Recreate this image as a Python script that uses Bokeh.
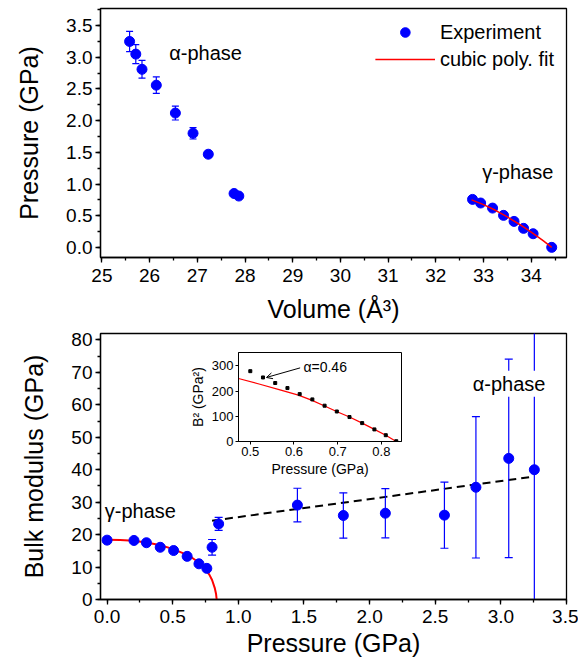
from bokeh.plotting import figure
from bokeh.models import (ColumnDataSource, Legend, LegendItem, Range1d, SingleIntervalTicker,
                          NumeralTickFormatter, Label, Arrow, OpenHead)
from bokeh.layouts import column
from bokeh.embed import file_html
from bokeh.resources import INLINE

FONT = "Liberation Sans"
BLUE = "#0000FF"

# ---------------- Top panel: P-V data ----------------
alpha_V = [25.58, 25.71, 25.84, 26.14, 26.54, 26.91, 27.23, 27.77, 27.87]
alpha_P = [3.25, 3.05, 2.81, 2.56, 2.12, 1.80, 1.47, 0.85, 0.81]
alpha_Perr = [0.16, 0.15, 0.14, 0.13, 0.11, 0.09, 0.05, 0.03, 0.03]
gamma_V = [32.77, 32.94, 33.19, 33.42, 33.64, 33.84, 34.04, 34.43]
gamma_P = [0.757, 0.70, 0.62, 0.505, 0.41, 0.30, 0.215, 0.0]
fit_V = [32.75, 33.0, 33.25, 33.5, 33.75, 34.0, 34.25, 34.43]
fit_P = [0.75, 0.675, 0.585, 0.48, 0.365, 0.24, 0.105, 0.0]

# ---------------- Bottom panel: B-P data ----------------
gB_P = [0.0, 0.205, 0.30, 0.405, 0.507, 0.61, 0.70, 0.76]
gB_B = [18.3, 18.2, 17.5, 16.1, 15.1, 13.3, 11.0, 9.6]
aB_P = [0.80, 0.85, 1.45, 1.80, 2.12, 2.57, 2.81, 3.06, 3.255]
aB_B = [16.1, 23.3, 29.1, 25.9, 26.6, 26.0, 34.6, 43.5, 40.0]
aB_err = [2.4, 2.0, 5.2, 7.0, 7.6, 10.2, 21.8, 30.6, 45.0]
redB_P = [0.0, 0.1, 0.2, 0.3, 0.4, 0.5, 0.6, 0.65, 0.7, 0.75, 0.78, 0.8, 0.82, 0.83, 0.835]
redB_B = [18.4, 18.35, 18.1, 17.6, 16.8, 15.6, 13.9, 12.8, 11.4, 9.3, 7.6, 6.0, 3.6, 1.8, 0.0]
dash_P = [0.80, 3.25]
dash_B = [24.3, 37.9]

# ---------------- Inset: B^2 vs P ----------------
ins_P = [0.50, 0.529, 0.557, 0.585, 0.613, 0.642, 0.670, 0.698, 0.727, 0.756, 0.784, 0.810, 0.834]
ins_B2 = [279, 254, 232, 212, 188, 167, 142, 119, 97, 73, 48, 25, 1]
insfit_P = [0.473, 0.52, 0.57, 0.61, 0.64, 0.67, 0.70, 0.727, 0.756, 0.784, 0.81, 0.834]
insfit_B2 = [250, 228, 204, 184, 164, 141, 117, 97, 73, 48, 25, 0]
arrow_from = (0.614, 292)
arrow_to = (0.537, 254)


def style_axes(p, tick_size="19px", label_size="25px", major_out=5, minor_out=3, lw=1.3):
    for ax in (p.xaxis[0], p.yaxis[0]):
        ax.axis_line_width = lw
        ax.major_tick_line_width = lw
        ax.minor_tick_line_width = lw
        ax.major_tick_in = 0
        ax.major_tick_out = major_out
        ax.minor_tick_in = 0
        ax.minor_tick_out = minor_out
        ax.major_label_text_font = FONT
        ax.major_label_text_font_size = tick_size
        ax.major_label_text_color = "black"
        ax.axis_label_text_font = FONT
        ax.axis_label_text_font_size = label_size
        ax.axis_label_text_font_style = "normal"
        ax.axis_label_text_color = "black"
        ax.major_label_standoff = 3
    p.xgrid.visible = False
    p.ygrid.visible = False
    p.outline_line_color = "black"
    p.outline_line_width = lw
    p.outline_line_alpha = 1.0


def errorbars(p, x, y, err, cap=7):
    lo = [yy - e for yy, e in zip(y, err)]
    hi = [yy + e for yy, e in zip(y, err)]
    src = ColumnDataSource(dict(x=x, lo=lo, hi=hi))
    p.segment(x0="x", y0="lo", x1="x", y1="hi", source=src, line_color=BLUE, line_width=1.2)
    p.scatter(x="x", y="lo", source=src, marker="dash", size=cap, line_color=BLUE, line_width=1.2)
    p.scatter(x="x", y="hi", source=src, marker="dash", size=cap, line_color=BLUE, line_width=1.2)


def label(p, x, y, text, size="20px", bg=None):
    p.add_layout(Label(x=x, y=y, text=text, text_font=FONT, text_font_size=size,
                       text_color="black", text_baseline="middle",
                       background_fill_color=bg, padding=2))


# ================= TOP =================
top = figure(frame_width=466, frame_height=249, output_backend="svg", toolbar_location=None,
             x_range=Range1d(24.97, 34.74), y_range=Range1d(-0.16, 3.77),
             min_border_left=98, min_border_right=14, min_border_top=8, min_border_bottom=69,
             x_axis_label="Volume (Å³)", y_axis_label="Pressure (GPa)")
style_axes(top)
top.xaxis[0].ticker = SingleIntervalTicker(interval=1, num_minor_ticks=2)
top.yaxis[0].ticker = SingleIntervalTicker(interval=0.5, num_minor_ticks=2)
top.yaxis[0].formatter = NumeralTickFormatter(format="0.0")
top.yaxis[0].axis_label_standoff = 20
top.xaxis[0].major_label_standoff = 6
top.xaxis[0].axis_label_standoff = 10

errorbars(top, alpha_V, alpha_P, alpha_Perr)
r_exp = top.scatter(alpha_V, alpha_P, size=10, fill_color=BLUE, line_color=BLUE)
top.scatter(gamma_V, gamma_P, size=10, fill_color=BLUE, line_color=BLUE)
r_fit = top.line(fit_V, fit_P, line_color="red", line_width=1.5)

label(top, 26.37, 3.06, "α-phase")
label(top, 32.93, 1.19, "γ-phase")

legend = Legend(items=[LegendItem(label="Experiment", renderers=[r_exp]),
                       LegendItem(label="cubic poly. fit", renderers=[r_fit])],
                location="top_right", border_line_color=None, background_fill_alpha=0,
                label_text_font=FONT, label_text_font_size="20px", label_text_color="black",
                glyph_width=60, glyph_height=24, label_height=24, label_standoff=5,
                spacing=3, padding=10, margin=12)
top.add_layout(legend)

# ================= BOTTOM =================
bot = figure(frame_width=466, frame_height=266, output_backend="svg", toolbar_location=None,
             x_range=Range1d(-0.05, 3.5), y_range=Range1d(0, 82),
             min_border_left=98, min_border_right=14, min_border_top=7, min_border_bottom=59,
             x_axis_label="Pressure (GPa)", y_axis_label="Bulk modulus (GPa)")
style_axes(bot)
bot.xaxis[0].ticker = SingleIntervalTicker(interval=0.5, num_minor_ticks=2)
bot.xaxis[0].formatter = NumeralTickFormatter(format="0.0")
bot.yaxis[0].ticker = SingleIntervalTicker(interval=10, num_minor_ticks=2)
bot.yaxis[0].axis_label_standoff = 20
bot.xaxis[0].major_label_standoff = 5
bot.xaxis[0].axis_label_standoff = 3

bot.line(dash_P, dash_B, line_color="black", line_width=2, line_dash="8 5")
errorbars(bot, aB_P, aB_B, aB_err, cap=8)
bot.line(redB_P, redB_B, line_color="red", line_width=2)
bot.scatter(gB_P, gB_B, size=10, fill_color=BLUE, line_color=BLUE)
bot.scatter(aB_P, aB_B, size=10, fill_color=BLUE, line_color=BLUE)

label(bot, -0.033, 27.4, "γ-phase")
label(bot, 2.77, 66.5, "α-phase", bg="white")

# ================= INSET =================
ins = figure(frame_width=163, frame_height=89, output_backend="svg", toolbar_location=None,
             x_range=Range1d(0.473, 0.846), y_range=Range1d(0, 353),
             min_border_left=100, min_border_right=3, min_border_top=4, min_border_bottom=40,
             x_axis_label="Pressure (GPa)", y_axis_label="B² (GPa²)",
             styles={"position": "absolute", "left": "138px", "top": "348px"})
style_axes(ins, tick_size="13px", label_size="14px", major_out=3, minor_out=2, lw=1)
ins.xaxis[0].ticker = SingleIntervalTicker(interval=0.1, num_minor_ticks=0)
ins.xaxis[0].formatter = NumeralTickFormatter(format="0.0")
ins.yaxis[0].ticker = SingleIntervalTicker(interval=100, num_minor_ticks=0)
ins.xaxis[0].major_label_standoff = 2
ins.yaxis[0].major_label_standoff = 2
ins.xaxis[0].axis_label_standoff = 2
ins.yaxis[0].axis_label_standoff = 3
ins.border_fill_alpha = 0
ins.background_fill_color = "white"

ins.line(insfit_P, insfit_B2, line_color="red", line_width=1.2)
ins.scatter(ins_P, ins_B2, size=3, marker="square", fill_color="black", line_color="black")
ins.add_layout(Arrow(x_start=arrow_from[0], y_start=arrow_from[1], x_end=arrow_to[0], y_end=arrow_to[1],
                     line_width=1, end=OpenHead(size=6, line_width=1)))
label(ins, 0.617, 296, "α=0.46", size="14px")

layout = column(top, bot, ins, spacing=0)
open("out.html", "w").write(file_html(layout, INLINE))
